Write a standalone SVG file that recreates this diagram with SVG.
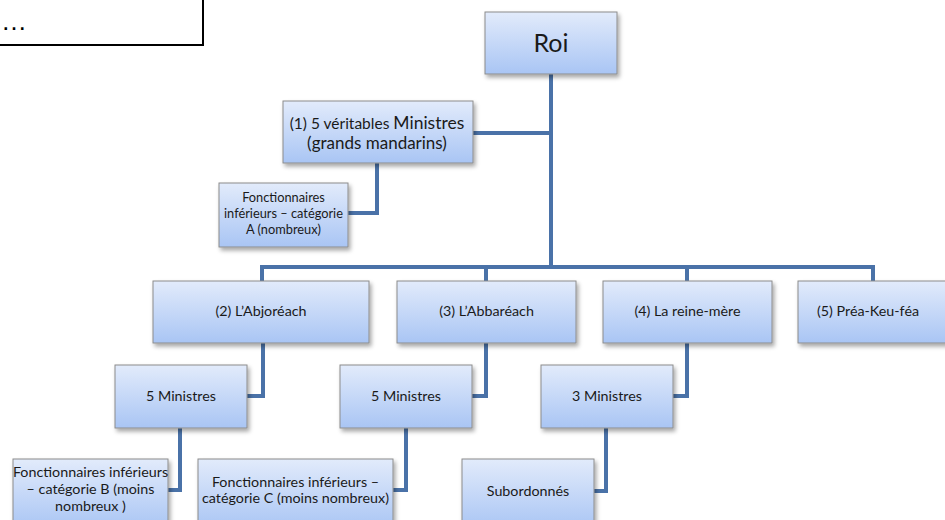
<svg xmlns="http://www.w3.org/2000/svg" width="945" height="520" viewBox="0 0 945 520">
<defs>
<linearGradient id="g" x1="0" y1="0" x2="0" y2="1">
<stop offset="0" stop-color="#e2ebfb"/>
<stop offset="1" stop-color="#a9c5f4"/>
</linearGradient>
<filter id="sh" x="-10%" y="-10%" width="125%" height="130%">
<feDropShadow dx="2" dy="3" stdDeviation="2" flood-color="#000" flood-opacity="0.35"/>
</filter>
</defs>
<style>
.box{fill:url(#g);stroke:#8c8c8c;stroke-width:1;filter:url(#sh)}
.t{font-family:Lato,"Noto Sans",sans-serif;font-size:14.3px;fill:#1a1a1a;text-anchor:middle}
.c{fill:none;stroke:#4a72a8;stroke-width:4}
</style>
<rect x="-5" y="-5" width="208" height="50" fill="#fff" stroke="#000" stroke-width="2"/>
<text x="1" y="30" style="font-family:'Liberation Sans',sans-serif;font-size:26px" fill="#000">…</text>
<g id="connectors">
<path class="c" d="M551 74 V267"/>
<path class="c" d="M473 133 H551"/>
<path class="c" d="M377 163 V213 H348"/>
<path class="c" d="M262 281 V267 H873 V281"/>
<path class="c" d="M486 267 V281"/>
<path class="c" d="M687 267 V281"/>
<path class="c" d="M263 343 V396 H247"/>
<path class="c" d="M486 343 V396 H472"/>
<path class="c" d="M687 343 V396 H673"/>
<path class="c" d="M180 428 V490 H168"/>
<path class="c" d="M406 428 V490 H393"/>
<path class="c" d="M606 428 V491 H594"/>
</g>
<g id="roi"><rect class="box" x="485" y="12" width="132" height="62"/><text class="t" x="551" y="52" style="font-size:25px">Roi</text></g>
<g id="n1"><rect class="box" x="283" y="101" width="190" height="62"/><text class="t" x="377" y="129" style="font-size:15.5px">(1) 5 véritables <tspan style="font-size:17.5px">Ministres</tspan></text><text class="t" x="377" y="149" style="font-size:17px">(grands mandarins)</text></g>
<g id="fa"><rect class="box" x="219" y="183" width="129" height="64"/><text class="t" x="283.5" y="202" style="font-size:12.8px">Fonctionnaires</text><text class="t" x="283.5" y="218" style="font-size:12.8px">inférieurs – catégorie</text><text class="t" x="283.5" y="234" style="font-size:12.8px">A (nombreux)</text></g>
<g id="n2"><rect class="box" x="153" y="281" width="216" height="62"/><text class="t" x="261" y="316">(2) L’Abjoréach</text></g>
<g id="n3"><rect class="box" x="397" y="281" width="179" height="62"/><text class="t" x="486.5" y="316">(3) L’Abbaréach</text></g>
<g id="n4"><rect class="box" x="603" y="281" width="169" height="62"/><text class="t" x="687.5" y="316">(4) La reine-mère</text></g>
<g id="n5"><rect class="box" x="798" y="281" width="160" height="62"/><text class="t" x="868" y="316">(5) Préa-Keu-féa</text></g>
<g id="m2"><rect class="box" x="115" y="365" width="132" height="63"/><text class="t" x="181" y="401">5 Ministres</text></g>
<g id="m3"><rect class="box" x="340" y="365" width="132" height="63"/><text class="t" x="406" y="401">5 Ministres</text></g>
<g id="m4"><rect class="box" x="541" y="365" width="132" height="63"/><text class="t" x="607" y="401">3 Ministres</text></g>
<g id="fb"><rect class="box" x="13" y="459" width="155" height="70"/><text class="t" x="90.5" y="477">Fonctionnaires inférieurs</text><text class="t" x="90.5" y="494">– catégorie B (moins</text><text class="t" x="90.5" y="511">nombreux )</text></g>
<g id="fc"><rect class="box" x="198" y="459" width="195" height="70"/><text class="t" x="295.5" y="487">Fonctionnaires inférieurs –</text><text class="t" x="295.5" y="503">catégorie C (moins nombreux)</text></g>
<g id="sub"><rect class="box" x="462" y="459" width="132" height="70"/><text class="t" x="528" y="496">Subordonnés</text></g>
</svg>
